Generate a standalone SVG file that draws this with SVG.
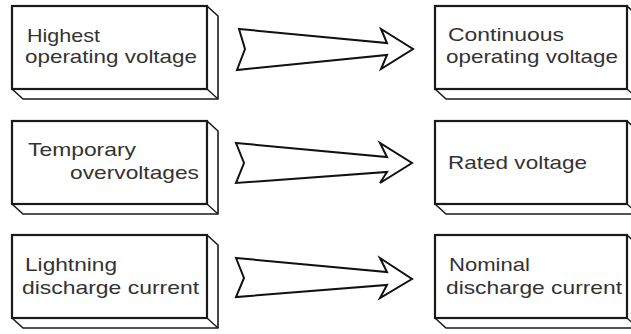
<svg xmlns="http://www.w3.org/2000/svg" width="631" height="334" viewBox="0 0 631 334">
<style>
.bx{fill:#fff;stroke:#1a1a1a;stroke-width:1.6;stroke-linejoin:round}
.fr{fill:#fff;stroke:#1a1a1a;stroke-width:2.2}
.ed{fill:none;stroke:#1a1a1a;stroke-width:1.4}
.ar{fill:#fff;stroke:#111;stroke-width:2;stroke-linejoin:miter}
text{font-family:"Liberation Sans",Arial,sans-serif;font-size:19px;fill:#333}
</style>
<rect width="631" height="334" fill="#fff"/>
<g id="connectors">
<polygon class="ar" points="239,29 387,43 381,29 413,49 381,69 387,55 237,70 245,49"/>
<polygon class="ar" points="236,143 387,157 380,143 412,163 380,183 387,172 236,183 244,163"/>
<polygon class="ar" points="236,258 387,272 380,258 412,279 380,298 387,285 236,297 244,278"/>
</g>
<g id="n1">
<polygon class="bx" points="12,6 207,6 218,16 218,99 23,99 12,89"/>
<line class="ed" x1="207" y1="89" x2="218" y2="99"/>
<rect class="fr" x="12" y="6" width="195" height="83"/>
<text x="27" y="42" textLength="73" lengthAdjust="spacingAndGlyphs">Highest</text>
<text x="25" y="63" textLength="172" lengthAdjust="spacingAndGlyphs">operating voltage</text>
</g>
<g id="n2">
<polygon class="bx" points="12,121 207,121 218,131 218,214 23,214 12,204"/>
<line class="ed" x1="207" y1="204" x2="218" y2="214"/>
<rect class="fr" x="12" y="121" width="195" height="83"/>
<text x="28" y="156" textLength="108" lengthAdjust="spacingAndGlyphs">Temporary</text>
<text x="70" y="179" textLength="129" lengthAdjust="spacingAndGlyphs">overvoltages</text>
</g>
<g id="n3">
<polygon class="bx" points="12,235 207,235 218,245 218,328 23,328 12,318"/>
<line class="ed" x1="207" y1="318" x2="218" y2="328"/>
<rect class="fr" x="12" y="235" width="195" height="83"/>
<text x="25" y="271" textLength="92" lengthAdjust="spacingAndGlyphs">Lightning</text>
<text x="22" y="294" textLength="177" lengthAdjust="spacingAndGlyphs">discharge current</text>
</g>
<g id="n4">
<polygon class="bx" points="435,6 627,6 638,16 638,99 446,99 435,89"/>
<line class="ed" x1="627" y1="89" x2="638" y2="99"/>
<rect class="fr" x="435" y="6" width="192" height="83"/>
<text x="448" y="41" textLength="116" lengthAdjust="spacingAndGlyphs">Continuous</text>
<text x="446" y="63" textLength="172" lengthAdjust="spacingAndGlyphs">operating voltage</text>
</g>
<g id="n5">
<polygon class="bx" points="435,121 627,121 638,131 638,214 446,214 435,204"/>
<line class="ed" x1="627" y1="204" x2="638" y2="214"/>
<rect class="fr" x="435" y="121" width="192" height="83"/>
<text x="448" y="169" textLength="139" lengthAdjust="spacingAndGlyphs">Rated voltage</text>
</g>
<g id="n6">
<polygon class="bx" points="435,235 627,235 638,245 638,328 446,328 435,318"/>
<line class="ed" x1="627" y1="318" x2="638" y2="328"/>
<rect class="fr" x="435" y="235" width="192" height="83"/>
<text x="449" y="271" textLength="81" lengthAdjust="spacingAndGlyphs">Nominal</text>
<text x="446" y="294" textLength="176" lengthAdjust="spacingAndGlyphs">discharge current</text>
</g>
</svg>
